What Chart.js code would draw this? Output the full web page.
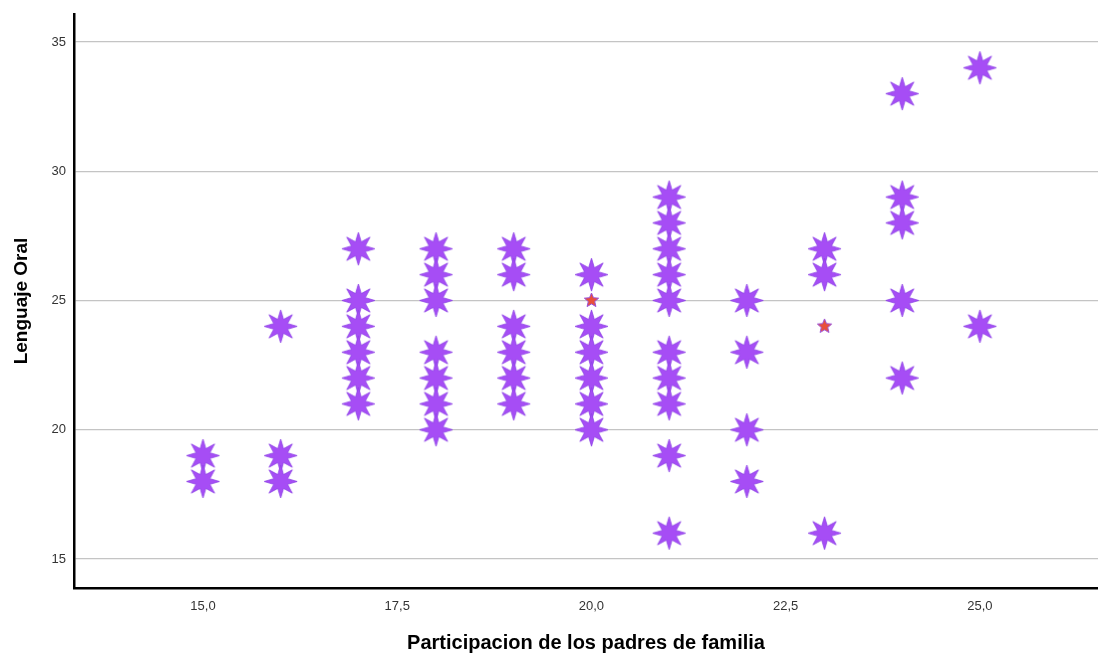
<!DOCTYPE html>
<html><head><meta charset="utf-8">
<script src="https://cdn.jsdelivr.net/npm/chart.js@4"></script>
<style>html,body{margin:0;padding:0;background:#fff;overflow:hidden}canvas{display:block}</style>
</head><body><canvas id="c" width="1098" height="655" style="width:1098px;height:655px"></canvas>
<script>
// Data
const purpleX = [15,15, 16,16,16, 17,17,17,17,17,17, 18,18,18,18,18,18,18, 19,19,19,19,19,19, 20,20,20,20,20,20, 21,21,21,21,21,21,21,21,21,21, 22,22,22,22, 23,23,23, 24,24,24,24,24, 25,25];
const purpleY = [19,18, 24,19,18, 27,25,24,23,22,21, 27,26,25,23,22,21,20, 27,26,24,23,22,21, 26,24,23,22,21,20, 29,28,27,26,25,23,22,21,19,16, 25,23,20,18, 27,26,16, 33,29,28,25,22, 34,24];
const redX = [20, 23];
const redY = [25, 24];
const xTicks = [15, 17.5, 20, 22.5, 25];
const yTicks = [15, 20, 25, 30, 35];
const xTitle = 'Participacion de los padres de familia';
const yTitle = 'Lenguaje Oral';

function starCanvas(points, outer, inner, fill, stroke, lw) {
  const s = Math.ceil(outer * 2 + 4);
  const cv = document.createElement('canvas');
  cv.width = s; cv.height = s;
  const ctx = cv.getContext('2d');
  ctx.translate(s / 2, s / 2);
  ctx.beginPath();
  for (let i = 0; i < points * 2; i++) {
    const r = i % 2 === 0 ? outer : inner;
    const a = -Math.PI / 2 + i * Math.PI / points;
    const px = r * Math.cos(a), py = r * Math.sin(a);
    if (i === 0) ctx.moveTo(px, py); else ctx.lineTo(px, py);
  }
  ctx.closePath();
  ctx.fillStyle = fill; ctx.fill();
  ctx.lineWidth = lw; ctx.strokeStyle = stroke; ctx.stroke();
  return cv;
}
const purpleStar = starCanvas(8, 16.5, 7.5, '#a64df5', '#8e44e6', 0.8);
const redStar = starCanvas(5, 7.5, 3.4, '#e8503a', '#9a4fd8', 1);

const pts = (xs, ys) => xs.map((x, i) => ({x: x, y: ys[i]}));

new Chart(document.getElementById('c'), {
  type: 'scatter',
  data: { datasets: [
    { data: pts(purpleX, purpleY), pointStyle: purpleStar, pointRadius: 16, pointHoverRadius: 16 },
    { data: pts(redX, redY), pointStyle: redStar, pointRadius: 8, pointHoverRadius: 8 }
  ]},
  options: {
    responsive: false, animation: false, devicePixelRatio: 1,
    layout: { autoPadding: false, padding: { top: 14, right: 0, left: 0, bottom: 0 } },
    plugins: { legend: { display: false }, tooltip: { enabled: false } },
    scales: {
      x: {
        type: 'linear', min: 13.34, max: 26.52,
        afterBuildTicks: s => { s.ticks = xTicks.map(v => ({value: v})); },
        afterFit: s => { s.height = 67; s.paddingRight = 0; s.paddingLeft = 0; },
        grid: { display: false, drawTicks: false },
        border: { display: true, color: '#000', width: 2.5 },
        ticks: { color: '#333', padding: 11, font: { family: 'Arial, "Liberation Sans"', size: 13 },
          callback: v => v.toFixed(1).replace('.', ',') },
        title: { display: true, text: xTitle, color: '#000', padding: { top: 8, bottom: 0 },
          font: { family: 'Arial, "Liberation Sans"', size: 20, weight: 'bold' } }
      },
      y: {
        type: 'linear', min: 13.88, max: 36.08,
        afterBuildTicks: s => { s.ticks = yTicks.map(v => ({value: v})); },
        afterFit: s => { s.width = 74; s.paddingTop = 0; s.paddingBottom = 0; },
        grid: { color: '#c4c4c4', lineWidth: 1.2, drawTicks: false },
        border: { display: true, color: '#000', width: 2.5 },
        ticks: { color: '#333', padding: 8, font: { family: 'Arial, "Liberation Sans"', size: 13 } },
        title: { display: true, text: yTitle, color: '#000', padding: { top: 10, bottom: 0 },
          font: { family: 'Arial, "Liberation Sans"', size: 19, weight: 'bold' } }
      }
    }
  }
});
</script></body></html>
